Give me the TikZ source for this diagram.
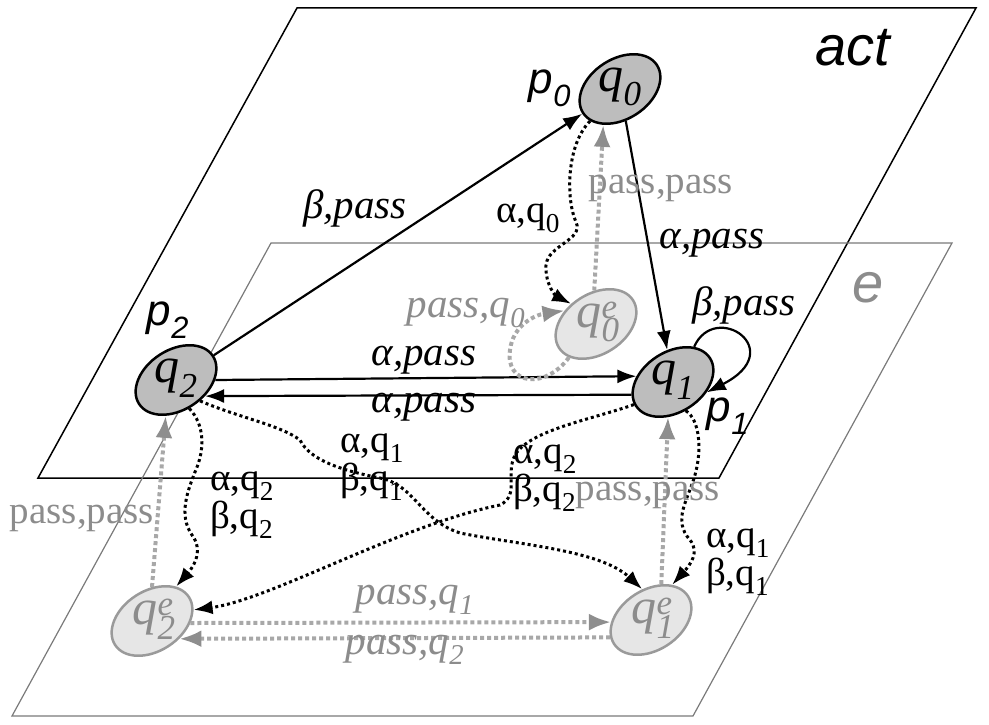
\documentclass[tikz,border=0pt]{standalone}
\usepackage{fontspec}
\setmainfont{Liberation Serif}
\setsansfont{Liberation Sans}
\usetikzlibrary{shapes.geometric,arrows.meta}
\definecolor{nodefill}{HTML}{BDBDBD}
\definecolor{efill}{HTML}{E6E6E6}
\definecolor{eline}{HTML}{9A9A9A}
\definecolor{etext}{HTML}{8C8C8C}
\definecolor{gdot}{HTML}{A8A8A8}
\definecolor{ghead}{HTML}{8E8E8E}
\definecolor{planeline}{HTML}{7A7A7A}
\begin{document}
\begin{tikzpicture}[x=1pt,y=-1pt,
  st/.style={ellipse,draw=black,line width=2.5pt,fill=nodefill,minimum width=88pt,minimum height=60pt,inner sep=0pt,rotate=33},
  est/.style={ellipse,draw=eline,line width=2.5pt,fill=efill,minimum width=88pt,minimum height=60pt,inner sep=0pt,rotate=33},
  stlab/.style={font=\fontsize{50}{50}\selectfont\itshape,inner sep=0pt},
  estlab/.style={stlab,text=etext},
  solidarr/.style={line width=2.2pt,-{Latex[length=19pt,width=14pt]}},
  bdot/.style={line width=3pt,dash pattern=on 3pt off 3pt,-{Latex[length=19pt,width=14pt]}},
  gdotarr/.style={draw=gdot,line width=4pt,dash pattern=on 4pt off 3pt,-{Latex[length=22pt,width=17pt,color=ghead]}},
  lab/.style={font=\fontsize{39}{38}\selectfont,inner sep=0pt,align=left},
  ilab/.style={inner sep=0pt,font=\fontsize{41}{40}\selectfont\itshape},
  plab/.style={inner sep=0pt,font=\fontsize{44}{44}\selectfont\sffamily\itshape},
  planelab/.style={inner sep=0pt,font=\fontsize{56}{56}\selectfont\sffamily\itshape}
]
\useasboundingbox (0,0) rectangle (989,725);
% planes
\draw[line width=1.5pt] (297,8) -- (976,8) -- (719,478) -- (38,478) -- cycle;
\draw[planeline,line width=1.2pt] (271,243) -- (952,243) -- (693,716) -- (12,716) -- cycle;
\node[planelab] (actlab) at (853,48) {act};
\node[planelab,text=etext] (elab) at (868,288) {e};
% states
\node[st] (q0) at (620,89) {};
\node[st] (q1) at (673,382) {};
\node[st] (q2) at (176,380) {};
\node[est] (q0e) at (596,324) {};
\node[est] (q1e) at (651,620) {};
\node[est] (q2e) at (152,621) {};
\node[stlab] (q0t) at (620,87) {q\textsubscript{0}};
\node[stlab] (q1t) at (673,380) {q\textsubscript{1}};
\node[stlab] (q2t) at (176,378) {q\textsubscript{2}};
\node[estlab] (q0et) at (598,322) {q\rlap{\textsuperscript{e}}\textsubscript{0}};
\node[estlab] (q1et) at (653,618) {q\rlap{\textsuperscript{e}}\textsubscript{1}};
\node[estlab] (q2et) at (154,619) {q\rlap{\textsuperscript{e}}\textsubscript{2}};
\node[plab] (p0) at (550,88) {p\textsubscript{0}};
\node[plab] (p1) at (728,416) {p\textsubscript{1}};
\node[plab] (p2) at (168,320) {p\textsubscript{2}};
% solid transitions
\draw[solidarr] (q2) -- (q0);
\draw[solidarr] (q0) -- (q1);
\draw[solidarr] (q2.327) -- (q1.138);
\draw[solidarr] (q1.164) -- (q2.298);
\draw[solidarr] (q1.26) .. controls (715,300) and (790,350) .. (q1.310);
% black dotted
\draw[bdot] (q0.194) .. controls (566,145) and (566,200) .. (576,222) .. controls (584,240) and (548,245) .. (546,265) .. controls (545,285) and (556,296) .. (q0e.108);
\draw[bdot] (q2.262) .. controls (205,425) and (205,450) .. (195,472) .. controls (188,490) and (178,515) .. (192,535) .. controls (203,550) and (195,565) .. (q2e.22);
\draw[bdot] (q2.286) .. controls (240,418) and (280,425) .. (300,440) .. controls (310,460) and (340,470) .. (380,478) .. controls (415,485) and (420,520) .. (460,533) .. controls (520,545) and (600,550) .. (q1e.73);
\draw[bdot] (q1.177) .. controls (590,420) and (530,430) .. (515,455) .. controls (505,475) and (520,495) .. (500,505) .. controls (400,525) and (270,600) .. (q2e.342);
\draw[bdot] (q1.261) .. controls (700,420) and (702,450) .. (695,475) .. controls (688,500) and (672,520) .. (690,540) .. controls (700,552) and (690,565) .. (q1e.26);
% gray dotted
\draw[gdotarr] (q0e.60) -- (q0.212);
\draw[gdotarr] (q0e.198) .. controls (545,390) and (505,385) .. (510,350) .. controls (513,325) and (535,315) .. (q0e.124);
\draw[gdotarr] (q2e.57) -- (q2.221);
\draw[gdotarr] (q1e.41) -- (q1.229);
\draw[gdotarr] (q2e.324) -- (q1e.150);
\draw[gdotarr] (q1e.170) -- (q2e.294);
% labels
\node[ilab] (l1) at (355,208) {β,pass};
\node[ilab] (l2) at (712,243) {α,pass};
\node[ilab] (l3) at (424,360) {α,pass};
\node[ilab] (l4) at (424,407) {α,pass};
\node[ilab] (l5) at (744,305) {β,pass};
\node[lab] (l6) at (528,218) {α,q\textsubscript{0}};
\node[lab,text=etext] (l7) at (661,188) {pass,pass};
\node[ilab,text=etext] (l8) at (466,313) {pass,q\textsubscript{0}};
\node[lab] (l9) at (372,467) {α,q\textsubscript{1}\\β,q\textsubscript{1}};
\node[lab] (l10) at (242,505) {α,q\textsubscript{2}\\β,q\textsubscript{2}};
\node[lab] (l11) at (545,478) {α,q\textsubscript{2}\\β,q\textsubscript{2}};
\node[lab] (l12) at (738,562) {α,q\textsubscript{1}\\β,q\textsubscript{1}};
\node[lab,text=etext] (l13) at (82,518) {pass,pass};
\node[lab,text=etext] (l14) at (648,495) {pass,pass};
\node[ilab,text=etext] (l15) at (415,600) {pass,q\textsubscript{1}};
\node[ilab,text=etext] (l16) at (405,650) {pass,q\textsubscript{2}};
\end{tikzpicture}
\end{document}
